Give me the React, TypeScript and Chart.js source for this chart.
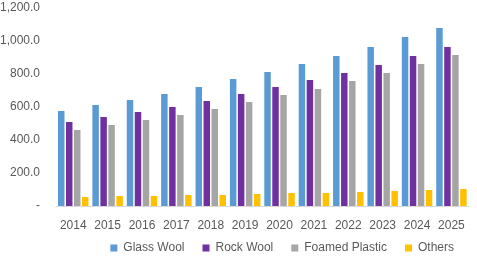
import React, { useEffect, useRef } from "react";
import { Chart, registerables } from "chart.js";

Chart.register(...registerables);

const categories = ["2014", "2015", "2016", "2017", "2018", "2019", "2020", "2021", "2022", "2023", "2024", "2025"];
const glassWool = [576, 612, 642, 679, 721, 770, 812, 861, 909, 964, 1024, 1079];
const rockWool = [509, 539, 570, 600, 636, 679, 721, 764, 806, 855, 909, 964];
const foamedPlastic = [461, 491, 521, 552, 588, 630, 673, 709, 758, 806, 861, 915];
const others = [55, 61, 61, 67, 67, 73, 79, 79, 85, 91, 97, 103];
const yTicks = [0, 200, 400, 600, 800, 1000, 1200];

const FONT = "'Liberation Sans', Arial, sans-serif";
const TEXT = "#595959";

const legendShift = {
  id: "legendShift",
  afterLayout(chart: any) {
    const lg = chart.legend;
    if (!lg) return;
    const h = lg.height;
    lg.top = 224;
    lg.bottom = 224 + h;
  },
};

export default function App() {
  const ref = useRef<HTMLCanvasElement>(null);
  useEffect(() => {
    if (!ref.current) return;
    const chart = new Chart(ref.current, {
      type: "bar",
      data: {
        labels: categories,
        datasets: [
          { label: "Glass Wool", data: glassWool, backgroundColor: "#5B9BD5" },
          { label: "Rock Wool", data: rockWool, backgroundColor: "#7030A0" },
          { label: "Foamed Plastic", data: foamedPlastic, backgroundColor: "#A5A5A5" },
          { label: "Others", data: others, backgroundColor: "#FFC000" },
        ],
      },
      plugins: [legendShift],
      options: {
        animation: false,
        responsive: false,
        maintainAspectRatio: false,
        layout: { padding: { top: 8, right: 5, left: 0, bottom: -14 } },
        datasets: { bar: { categoryPercentage: 0.93, barPercentage: 0.81 } },
        plugins: {
          tooltip: { enabled: false },
          legend: {
            position: "bottom",
            align: "end",
            labels: {
              boxWidth: 7,
              boxHeight: 7,
              padding: 18,
              color: TEXT,
              font: { family: FONT, size: 12 },
            },
          },
        },
        scales: {
          x: {
            grid: { display: false, drawTicks: false },
            border: { display: true, color: "#D9D9D9", width: 1 },
            ticks: { color: TEXT, font: { family: FONT, size: 12 }, padding: 12 },
            afterFit: (scale: any) => {
              scale.height = 26;
            },
          },
          y: {
            min: 0,
            max: 1200,
            afterBuildTicks: (axis: any) => {
              axis.ticks = yTicks.map((v) => ({ value: v }));
            },
            grid: { display: false, drawTicks: true, tickLength: 16 },
            border: { display: false },
            ticks: {
              color: TEXT,
              font: { family: FONT, size: 12 },
              padding: 0,
              callback: (v: any) =>
                Number(v) === 0
                  ? "-"
                  : Number(v).toLocaleString("en-US", { minimumFractionDigits: 1, maximumFractionDigits: 1 }),
            },
          },
        },
      },
    });
    return () => chart.destroy();
  }, []);
  return (
    <div style={{ position: "fixed", left: 0, top: 0, width: 477, height: 258, background: "#fff" }}>
      <canvas ref={ref} width={477} height={258} style={{ width: 477, height: 258 }} />
    </div>
  );
}
